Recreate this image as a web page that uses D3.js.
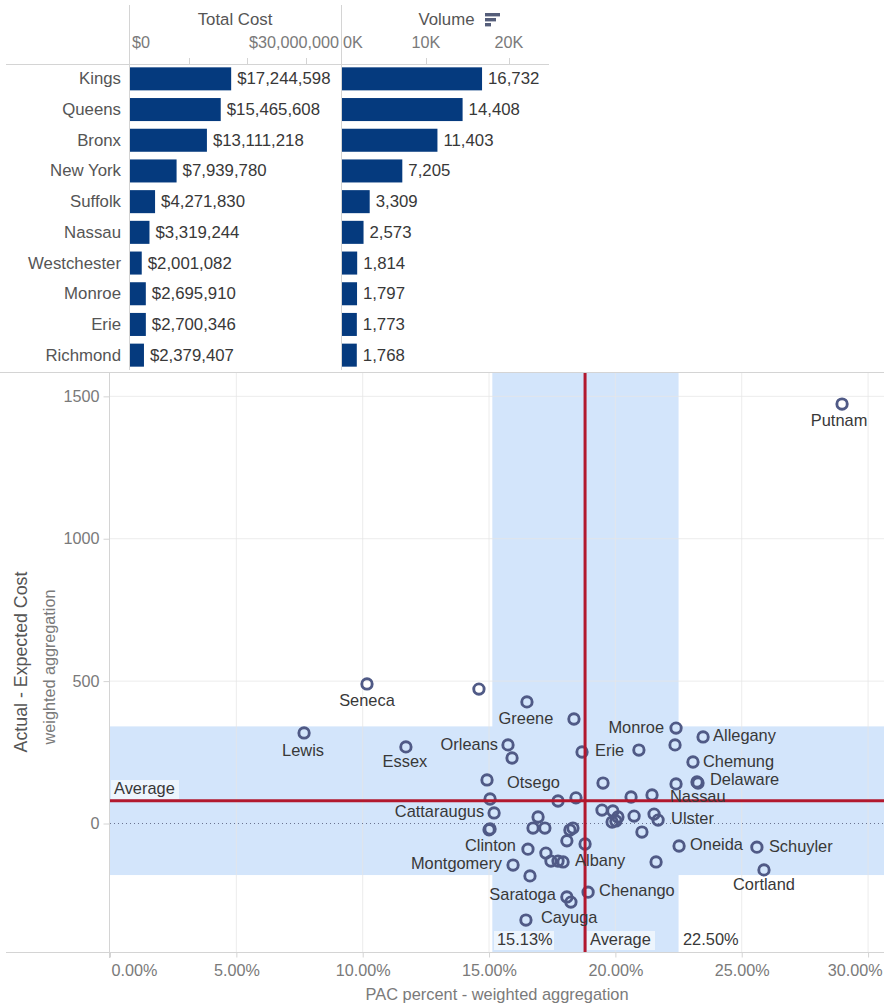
<!DOCTYPE html>
<html><head><meta charset="utf-8">
<script src="https://d3js.org/d3.v7.min.js"></script>
<style>html,body{margin:0;padding:0;background:#fff}svg{display:block}text{font-family:"Liberation Sans",Arial,sans-serif}</style>
</head><body><svg id="c" width="884" height="1005"></svg>
<script>
const counties=["Kings","Queens","Bronx","New York","Suffolk","Nassau","Westchester","Monroe","Erie","Richmond"];
const totalCost=[17244598,15465608,13111218,7939780,4271830,3319244,2001082,2695910,2700346,2379407];
const volume=[16732,14408,11403,7205,3309,2573,1814,1797,1773,1768];
const costTicks=[0,10000000,20000000,30000000];
const volumeTicks=[0,10000,20000];
const pointNames=["Putnam","Seneca","","Greene","","Lewis","Essex","Orleans","","Erie","Monroe","","Allegany","","Chemung","","","Delaware","","Otsego","","","","","Nassau","Cattaraugus","","","","","","","","Ulster","","","","","","","","Clinton","","","","Albany","","Oneida","Schuyler","Cortland","","Chenango","Saratoga","","Cayuga","Montgomery","","",""];
const pacPercent=[28.97,10.17,14.60,16.50,18.36,7.68,11.71,15.75,15.91,18.68,22.40,22.36,23.47,20.93,23.07,19.51,22.40,23.23,23.27,14.92,15.04,17.73,18.44,20.62,21.45,15.20,19.47,19.90,20.10,19.87,20.02,20.74,21.53,21.69,21.05,18.32,18.20,16.94,16.74,17.21,18.08,16.54,17.25,17.45,17.73,17.93,18.80,22.52,25.60,25.88,21.61,18.92,18.08,18.24,16.46,15.95,16.62,15.00,15.04];
const actualMinusExpected=[1473,490,472,427,367,318,269,276,230,251,335,276,304,258,216,142,139,146,142,153,86,79,90,93,100,37,47,44,23,5,9,26,33,12,-30,-16,-23,23,-16,-16,-61,-90,-104,-132,-132,-135,-72,-79,-83,-163,-135,-241,-258,-276,-339,-146,-184,-22,-19];
const xTicks=[0,5,10,15,20,25,30];
const yTicks=[0,500,1000,1500];
const avgX=18.8, avgY=80, bandX=[15.13,22.5], bandY=[-181,341];

// label placement relative to the mark: [dx, dy, anchor]
const labelPlace={Putnam:[-3,22,"middle"],Seneca:[0,22,"middle"],Greene:[-1,22,"middle"],Lewis:[-1,23,"middle"],Essex:[-1,20,"middle"],Orleans:[-10,5,"end"],Erie:[13,4,"start"],Monroe:[-12,5,"end"],Allegany:[10,4,"start"],Chemung:[10,5,"start"],Delaware:[13,3,"start"],Otsego:[20,8,"start"],Nassau:[18,7,"start"],Cattaraugus:[-10,4,"end"],Ulster:[13,4,"start"],Clinton:[-12,2,"end"],Oneida:[11,4,"start"],Schuyler:[12,5,"start"],Cortland:[0,20,"middle"],Albany:[12,4,"start"],Montgomery:[-11,4,"end"],Chenango:[11,4,"start"],Saratoga:[-11,3,"end"],Cayuga:[15,3,"start"]};

const svg=d3.select("#c");
const dark="#383838", mid="#555", grey="#7a7a7a", rule="#d4d4d4", navy="#053a7e";
const fsLabel=16.4, fsTable=16.8, fsTick=16.2;

// ---------- top table ----------
const rowY=d3.scaleBand().domain(counties).range([63.5,370.5]).paddingInner(0.25).paddingOuter(0.125);
const costX=d3.scaleLinear().domain([0,30000000]).range([130,306]);
const volX=d3.scaleLinear().domain([0,20000]).range([342,509.4]);
const head=svg.append("g");
head.append("line").attr("x1",6).attr("x2",549).attr("y1",64.5).attr("y2",64.5).attr("stroke",rule);
[129.5,341.5].forEach(x=>head.append("line").attr("x1",x).attr("x2",x).attr("y1",5).attr("y2",370).attr("stroke",rule));
costTicks.slice(1).forEach(t=>head.append("line").attr("x1",Math.round(costX(t))+.5).attr("x2",Math.round(costX(t))+.5).attr("y1",58).attr("y2",64).attr("stroke",rule));
volumeTicks.slice(1).forEach(t=>head.append("line").attr("x1",Math.round(volX(t))+.5).attr("x2",Math.round(volX(t))+.5).attr("y1",58).attr("y2",64).attr("stroke",rule));

head.append("text").attr("x",235).attr("y",25).attr("text-anchor","middle").attr("font-size",fsTable).attr("fill",mid).text("Total Cost");
head.append("text").attr("x",446.5).attr("y",25).attr("text-anchor","middle").attr("font-size",fsTable).attr("fill",mid).text("Volume");
[[15],[11],[6]].forEach(([w],i)=>head.append("rect").attr("x",485).attr("y",13+i*5).attr("width",w).attr("height",3.4).attr("fill","#555e7a"));
const tick=(x,a,t)=>head.append("text").attr("x",x).attr("y",48).attr("text-anchor",a).attr("font-size",fsTick).attr("fill",grey).text(t);
tick(132,"start","$0");tick(339,"end","$30,000,000");tick(343,"start","0K");tick(426,"middle","10K");tick(509,"middle","20K");

head.selectAll("text.county").data(counties).join("text").attr("class","county").attr("x",121).attr("y",d=>rowY(d)+rowY.bandwidth()/2+5.5).attr("text-anchor","end").attr("font-size",fsTable).attr("fill",mid).text(d=>d);
head.selectAll("rect.cost").data(counties).join("rect").attr("class","cost").attr("x",costX(0)).attr("y",d=>rowY(d)).attr("height",rowY.bandwidth()).attr("width",(d,i)=>costX(totalCost[i])-costX(0)).attr("fill",navy);
head.selectAll("rect.vol").data(counties).join("rect").attr("class","vol").attr("x",volX(0)).attr("y",d=>rowY(d)).attr("height",rowY.bandwidth()).attr("width",(d,i)=>volX(volume[i])-volX(0)).attr("fill",navy);
const fmtCost=d3.format("$,"), fmtVol=d3.format(",");
head.selectAll("text.costv").data(counties).join("text").attr("class","costv").attr("x",(d,i)=>costX(totalCost[i])+6).attr("y",d=>rowY(d)+rowY.bandwidth()/2+5.5).attr("font-size",fsTable).attr("fill",dark).text((d,i)=>fmtCost(totalCost[i]));
head.selectAll("text.volv").data(counties).join("text").attr("class","volv").attr("x",(d,i)=>volX(volume[i])+6).attr("y",d=>rowY(d)+rowY.bandwidth()/2+5.5).attr("font-size",fsTable).attr("fill",dark).text((d,i)=>fmtVol(volume[i]));

// ---------- scatter ----------
const x=d3.scaleLinear().domain([0,30.63]).range([110,884]);
const y=d3.scaleLinear().domain([-453,1582]).range([952.5,373]);
const g=svg.append("g");
g.append("line").attr("x1",0).attr("x2",884).attr("y1",372.5).attr("y2",372.5).attr("stroke",rule);
g.append("rect").attr("x",x(bandX[0])).attr("width",x(bandX[1])-x(bandX[0])).attr("y",373).attr("height",579.5).attr("fill","#d3e5fb");
g.append("rect").attr("x",110).attr("width",774).attr("y",y(bandY[1])).attr("height",y(bandY[0])-y(bandY[1])).attr("fill","#d3e5fb");

const grid=g.append("g");
xTicks.slice(1).forEach(t=>{grid.append("line").attr("x1",x(t)).attr("x2",x(t)).attr("y1",373).attr("y2",952).attr("stroke","#e6e6e6").attr("stroke-opacity",.75)});
yTicks.slice(1).forEach(t=>{grid.append("line").attr("x1",110).attr("x2",884).attr("y1",y(t)).attr("y2",y(t)).attr("stroke","#e6e6e6").attr("stroke-opacity",.75)});
g.append("line").attr("x1",110).attr("x2",884).attr("y1",y(0)).attr("y2",y(0)).attr("stroke","#6a7390").attr("stroke-dasharray","1 3");

const xAxis=d3.axisBottom(x).tickValues(xTicks).tickFormat(d=>d.toFixed(2)+"%").tickSize(5).tickPadding(7);
const ax=g.append("g").attr("transform","translate(0,952.5)").call(xAxis);
ax.select(".domain").remove();
ax.selectAll("line").attr("stroke",rule);
ax.selectAll("text").attr("font-size",fsTick).attr("font-family",null).attr("fill",grey);
ax.selectAll(".tick").filter(d=>d===0).select("text").attr("text-anchor","start").attr("dx",1);
ax.selectAll(".tick").filter(d=>d===30).select("text").attr("text-anchor","end").attr("dx",14);
g.append("line").attr("x1",6).attr("x2",884).attr("y1",952.5).attr("y2",952.5).attr("stroke",rule);

const yAxis=d3.axisLeft(y).tickValues(yTicks).tickFormat(d=>d).tickSize(6).tickPadding(4);
const ay=g.append("g").attr("transform","translate(109.5,0)").call(yAxis);
ay.select(".domain").remove();
ay.selectAll("line").attr("stroke",rule);
ay.selectAll("text").attr("font-size",fsTick).attr("fill",grey);
g.append("line").attr("x1",109.5).attr("x2",109.5).attr("y1",373).attr("y2",958).attr("stroke",rule);

g.append("text").attr("x",497).attr("y",1000).attr("text-anchor","middle").attr("font-size",16.4).attr("fill",grey).text("PAC percent - weighted aggregation");
g.append("text").attr("transform","translate(27,662) rotate(-90)").attr("text-anchor","middle").attr("font-size",17.8).attr("fill",mid).text("Actual - Expected Cost");
g.append("text").attr("transform","translate(55,667) rotate(-90)").attr("text-anchor","middle").attr("font-size",16.2).attr("fill",grey).text("weighted aggregation");

// reference labels with pale backgrounds
const tag=(px,py,w,t)=>{g.append("rect").attr("x",px-3).attr("y",py-14).attr("width",w).attr("height",19).attr("fill","#fff").attr("fill-opacity",.6);
 g.append("text").attr("x",px).attr("y",py).attr("font-size",fsLabel).attr("fill",dark).text(t)};
tag(114,794,68,"Average");
tag(497,945,60,"15.13%");
tag(590,945,68,"Average");
tag(683,945,60,"22.50%");

// points
const pts=d3.range(pacPercent.length);
g.selectAll("circle.p").data(pts).join("circle").attr("class","p").attr("cx",i=>x(pacPercent[i])).attr("cy",i=>y(actualMinusExpected[i])).attr("r",5.2).attr("fill","none").attr("stroke","#505a86").attr("stroke-width",2.9);

// average lines
g.append("line").attr("x1",110).attr("x2",884).attr("y1",y(avgY)).attr("y2",y(avgY)).attr("stroke","#b2182e").attr("stroke-width",3);
g.append("line").attr("x1",x(avgX)).attr("x2",x(avgX)).attr("y1",373).attr("y2",952).attr("stroke","#b2182e").attr("stroke-width",3);

// point labels
g.selectAll("text.pl").data(pts.filter(i=>pointNames[i])).join("text").attr("class","pl")
 .attr("x",i=>x(pacPercent[i])+labelPlace[pointNames[i]][0])
 .attr("y",i=>y(actualMinusExpected[i])+labelPlace[pointNames[i]][1])
 .attr("text-anchor",i=>labelPlace[pointNames[i]][2])
 .attr("font-size",fsLabel).attr("fill",dark).text(i=>pointNames[i]);
</script></body></html>
